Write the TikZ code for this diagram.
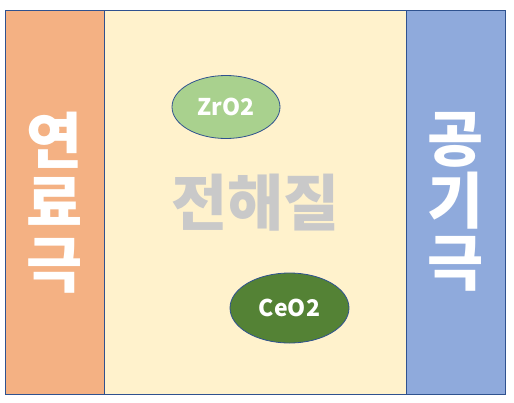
\documentclass[tikz,border=0pt]{standalone}
\usepackage{fontspec}
\usepackage{tikz}
\usetikzlibrary{shapes.geometric}
\newfontfamily\kofont{Noto Sans CJK KR}
\definecolor{edgeblue}{HTML}{2F528F}
\definecolor{fuelcol}{HTML}{F4B183}
\definecolor{elytecol}{HTML}{FFF2CC}
\definecolor{aircol}{HTML}{8FAADC}
\definecolor{zrcol}{HTML}{A9D18E}
\definecolor{cecol}{HTML}{548235}
\definecolor{textgray}{HTML}{C9C9C9}

\begin{document}
\begin{tikzpicture}[
				x=1pt, y=-1pt,
				panel/.style={rectangle, draw=edgeblue, line width=0.8pt, minimum height=383.5pt, inner sep=0pt, text=white, font=\kofont\bfseries\fontsize{61}{62}\selectfont, align=center},
				oxide/.style={ellipse, draw=edgeblue, line width=0.8pt, inner sep=0pt, text=white, font=\kofont\bfseries\fontsize{23}{23}\selectfont}
			]
			\useasboundingbox (0,0) rectangle (514,402);

			\node[panel, fill=fuelcol, minimum width=99pt] (fuel) at (55,202.25) {연\\료\\극};
			\node[panel, fill=elytecol, minimum width=301.5pt, text=textgray] (elyte) at (255.25,202.25) {전해질};
			\node[panel, fill=aircol, minimum width=99.5pt] (air) at (455.75,202.25) {공\\기\\극};

			\node[oxide, fill=zrcol, minimum width=108pt, minimum height=63pt] (zro) at (226,107) {ZrO2};
			\node[oxide, fill=cecol, minimum width=119pt, minimum height=70pt] (ceo) at (289.5,308) {CeO2};

		\end{tikzpicture}
\end{document}
